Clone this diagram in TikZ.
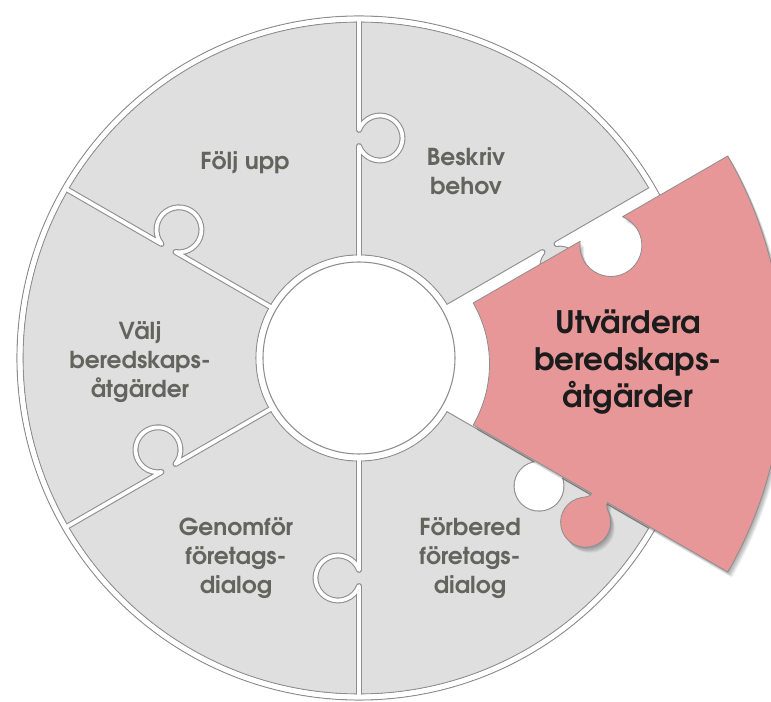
\documentclass[tikz,border=0pt]{standalone}
\usepackage{fontspec}
\setmainfont{TeX Gyre Adventor}
\definecolor{piecegray}{RGB}{223,223,223}
\definecolor{edgegray}{RGB}{142,142,142}
\definecolor{textgray}{RGB}{100,100,94}
\definecolor{rosefill}{RGB}{232,151,152}
\definecolor{darktext}{RGB}{28,28,28}

% knob on a seam: centre 220 out along the seam, 21 to the clockwise side
\newcommand\knobrad{22.5}
\newcommand\knobbeta{68.96}
\newcommand\knobin{211.92}
\newcommand\knobout{228.08}

% outline of the pulled-out piece, in its own frame (apex at origin)
\newcommand\roseoutline{(-30:122)
  {[rotate=-30] -- (259,0) .. controls (259,-4) and (255,-6.28) .. (251.93,-8.85)
     arc[start angle=130, end angle=410, radius=25]
     .. controls (281,-6.28) and (277,-4) .. (277,0) -- (416,0)}
  arc[start angle=-30, end angle=30, radius=416]
  {[rotate=30] -- (294.49,0) arc[start angle=37.8, end angle=-217.8, radius=31] -- (122,0)}
  arc[start angle=30, end angle=-30, radius=122] -- cycle}

\begin{document}
\begin{tikzpicture}[x=0.75pt,y=0.75pt,
  edge/.style={draw=edgegray, line width=0.8pt},
  seam/.style={draw=edgegray, line width=0.8pt, double=white, double distance=2.8pt, line join=round},
  lbl/.style={text=textgray, font=\bfseries\fontsize{17.5}{22}\selectfont, align=center},
  lblrose/.style={text=darktext, font=\bfseries\fontsize{23.2}{27.5}\selectfont, align=center}]

\path[use as bounding box] (-359,-344) rectangle (412,358);
\clip (-359,-344) rectangle (412,358);
\fill[white] (-359,-344) rectangle (412,358);

% outer rim
\draw[edge, fill=white] (0,0) circle[radius=342];

% ring of pieces
\fill[piecegray, even odd rule] (0,0) circle[radius=336] (0,0) circle[radius=103];
\draw[edge] (0,0) circle[radius=336];
\draw[edge] (0,0) circle[radius=103];

% seams between the pieces, each with its knob
\foreach \t in {30,90,150,210,270,330}
  \draw[seam] (\t:99) -- (\t:\knobin)
    arc[start angle=\t+180-\knobbeta, end angle=\t+360+\knobbeta, radius=\knobrad]
    -- (\t:339.5);

% tidy the seam ends
\fill[white, even odd rule] (0,0) circle[radius=341.3] (0,0) circle[radius=336.6];
\fill[white] (0,0) circle[radius=102.4];

% empty slot left by the pulled-out piece
\fill[white] (-30:99) -- (-30:\knobin)
    arc[start angle=-30+180-\knobbeta, end angle=-30+360+\knobbeta, radius=\knobrad]
    -- (-30:339.5) arc[start angle=-30, end angle=30, radius=339.5]
    -- (30:\knobout)
    arc[start angle=30+360+\knobbeta, end angle=30+180-\knobbeta, radius=\knobrad]
    -- (30:99) arc[start angle=30, end angle=-30, radius=99] -- cycle;

% hub
\draw[edge, fill=white] (0,0) circle[radius=96];

% pulled-out piece with a soft shadow
\begin{scope}[shift={(8.5,-6)}]
  \foreach \k in {1,...,7}
    \fill[black, opacity=0.05, shift={(\k*0.6,-\k*0.8)}] \roseoutline;
  \filldraw[fill=rosefill, draw=edgegray, line width=0.6pt, line join=round] \roseoutline;
\end{scope}

% labels
\node[lbl] (follow)   at (-114,195) {Följ upp};
\node[lbl] (describe) at (107,187)  {Beskriv\\behov};
\node[lbl] (choose)   at (-219,-4)  {Välj\\beredskaps-\\åtgärder};
\node[lbl] (conduct)  at (-123,-200) {Genomför\\företags-\\dialog};
\node[lbl] (prepare)  at (111,-200) {Förbered\\företags-\\dialog};
\node[lblrose] (evaluate) at (269,-4) {Utvärdera\\beredskaps-\\åtgärder};
\end{tikzpicture}
\end{document}
